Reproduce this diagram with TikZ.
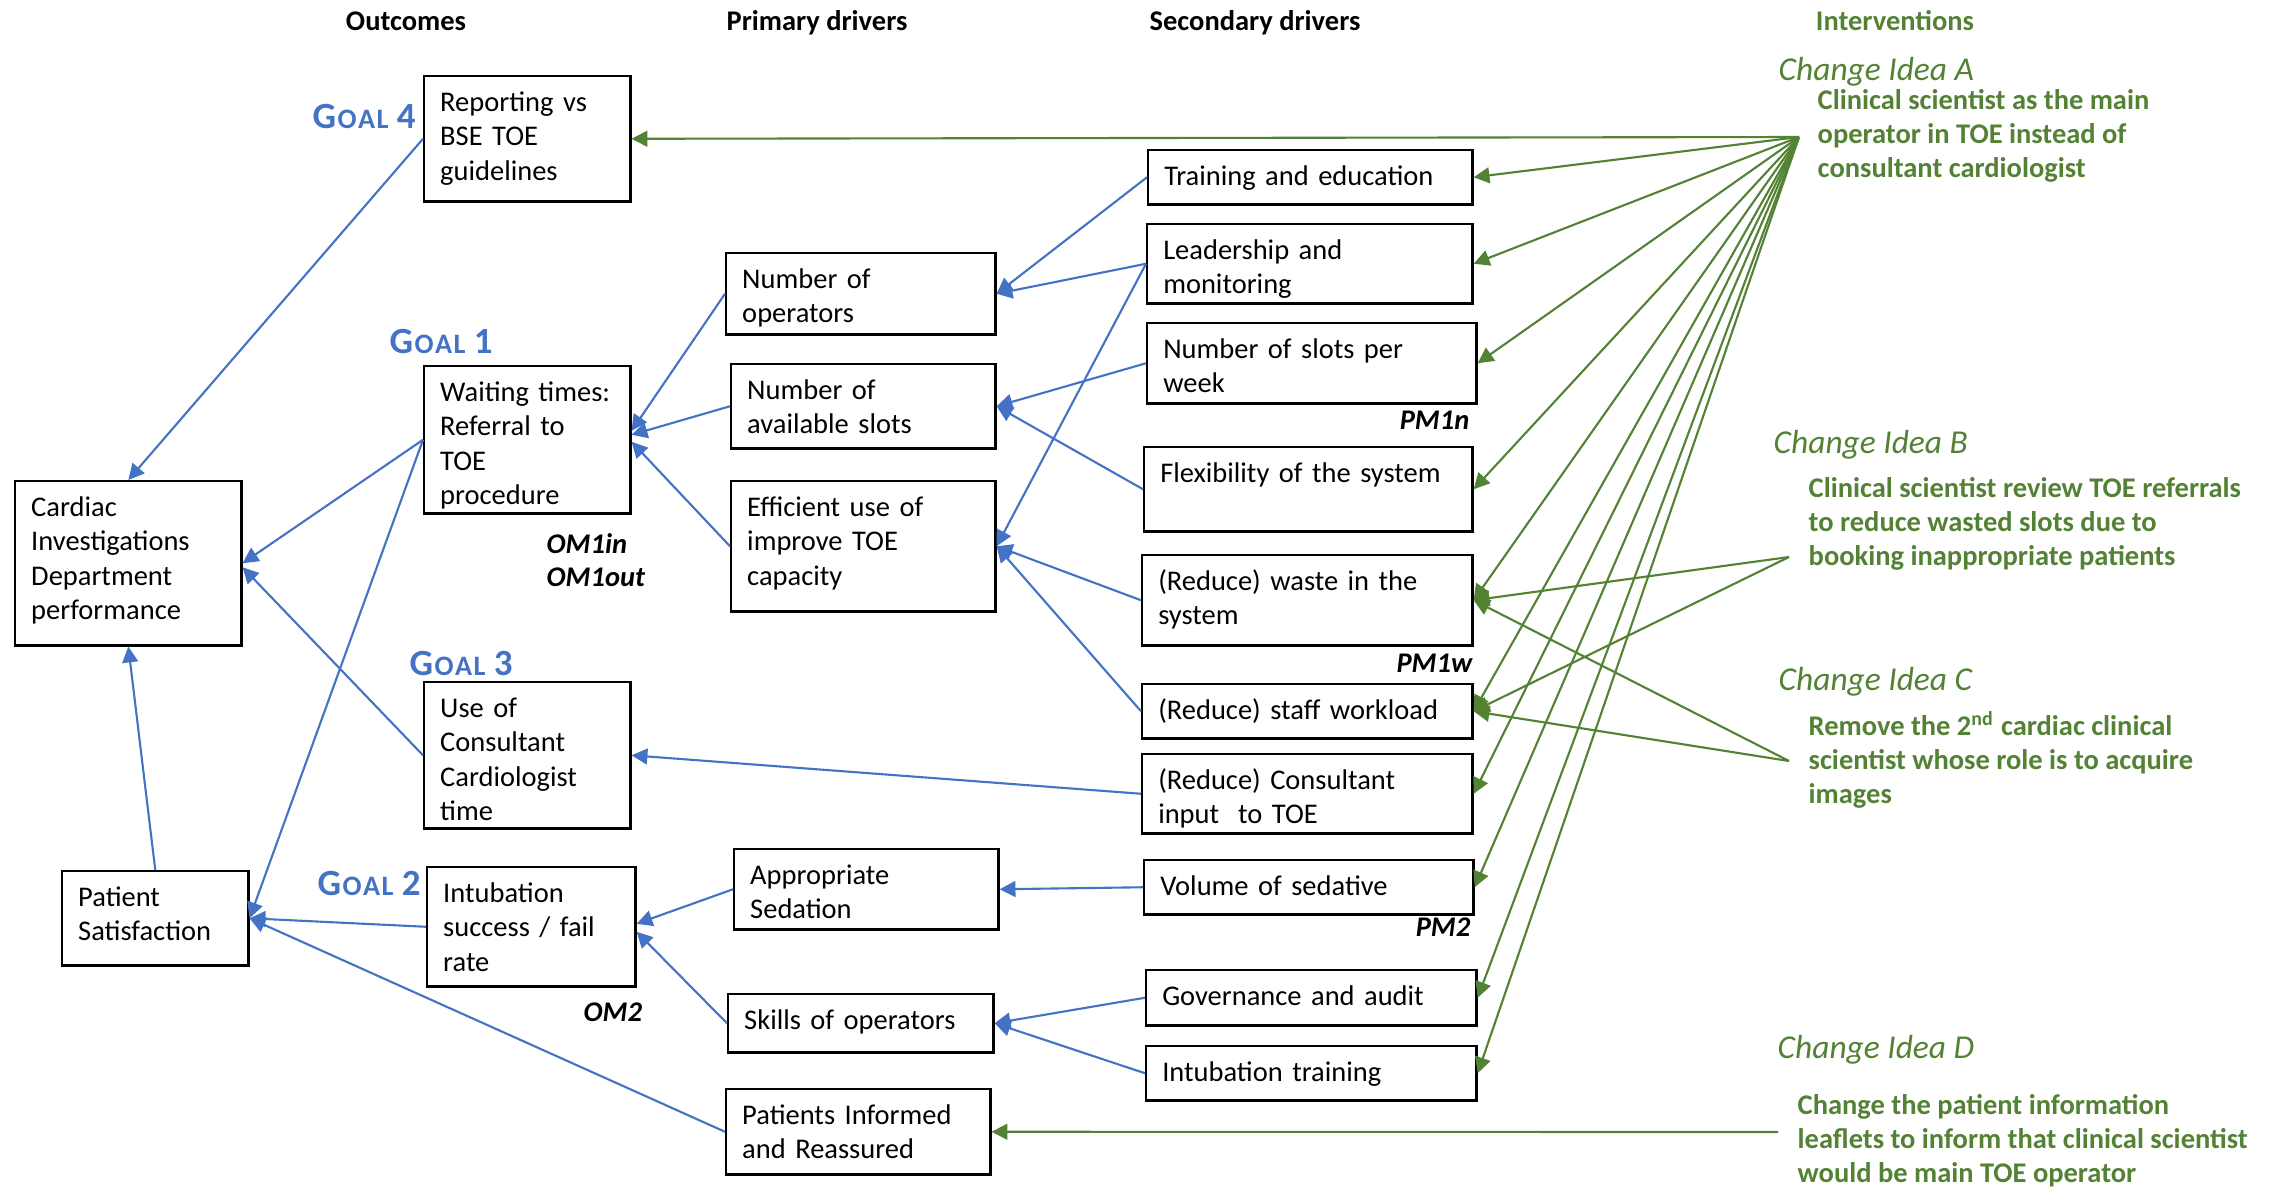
\documentclass[tikz,border=0pt]{standalone}
\usepackage{fontspec}
\setmainfont{Carlito}
\usetikzlibrary{arrows.meta,calc}
\definecolor{gblue}{HTML}{4472C4}
\definecolor{ggreen}{HTML}{548235}
\newcommand\bodyfs{\fontsize{8.1pt}{9.8pt}\selectfont}
\newcommand\goaltxt[1]{{\fontsize{10.5pt}{10.5pt}\selectfont G\kern0.4pt\fontsize{8pt}{8pt}\selectfont O\kern0.4pt A\kern0.4pt L\fontsize{10.5pt}{10.5pt}\selectfont\ #1}}
\newcommand\itxtbox[1]{\parbox[t]{8cm}{\fontsize{8.1pt}{9.8pt}\selectfont\bfseries\raggedright #1}}
\begin{document}
\begin{tikzpicture}[x=0.01cm,y=-0.01cm,
  box/.style={draw, line width=0.7pt, anchor=north west, inner xsep=0.16cm, inner ysep=0pt, align=left, font=\bodyfs, text height=0.352cm},
  bl/.style={draw=gblue, line width=0.6pt, -{Triangle[length=4.5pt,width=4.5pt]}},
  gr/.style={draw=ggreen, line width=0.6pt, -{Triangle[length=4.5pt,width=4.5pt]}},
  hdr/.style={font=\bodyfs\bfseries, anchor=base, inner sep=0pt},
  goal/.style={text=gblue, font=\bfseries, anchor=base west, inner sep=0pt},
  meas/.style={font=\bodyfs\bfseries\itshape, inner sep=0pt},
  idea/.style={text=ggreen, font=\fontsize{9.5pt}{11pt}\selectfont\itshape, anchor=base west, inner sep=0pt},
  itxt/.style={anchor=base west, inner sep=0pt, text=ggreen}]
\path[use as bounding box, fill=white] (0,0) rectangle (2275,1187);

% headers
\node[hdr] (hOut) at (406,30) {Outcomes};
\node[hdr] (hPri) at (817,30) {Primary drivers};
\node[hdr] (hSec) at (1255,30) {Secondary drivers};
\node[hdr, text=ggreen] (hInt) at (1895,30) {Interventions};

% outcome boxes
\node[box, text width=1.74cm, text depth=0.898cm] (rep) at (423,75) {Reporting vs\\BSE TOE\\guidelines};
\node[box, text width=1.74cm, text depth=1.118cm] (wait) at (423,365) {Waiting times:\\Referral to\\TOE\\procedure};
\node[box, text width=1.94cm, text depth=1.288cm] (cardiac) at (14,480) {Cardiac\\Investigations\\Department\\performance};
\node[box, text width=1.74cm, text depth=1.108cm] (use) at (423,681) {Use of\\Consultant\\Cardiologist\\time};
\node[box, text width=1.54cm, text depth=0.588cm] (patsat) at (61,870) {Patient\\Satisfaction};
\node[box, text width=1.76cm, text depth=0.838cm] (intub) at (426,866) {Intubation\\success / fail\\rate};

% primary drivers
\node[box, text width=2.37cm, text depth=0.458cm] (nops) at (725,252) {Number of\\operators};
\node[box, text width=2.32cm, text depth=0.488cm] (nslots) at (730,363) {Number of\\available slots};
\node[box, text width=2.32cm, text depth=0.948cm] (eff) at (730,480) {Efficient use of\\improve TOE\\capacity};
\node[box, text width=2.32cm, text depth=0.448cm] (sed) at (733,848) {Appropriate\\Sedation};
\node[box, text width=2.33cm, text depth=0.228cm] (skills) at (727,993) {Skills of operators};
\node[box, text width=2.32cm, text depth=0.498cm] (pinf) at (725,1088) {Patients Informed\\and Reassured};

% secondary drivers
\node[box, text width=2.92cm, text depth=0.188cm] (train) at (1147,149) {Training and education};
\node[box, text width=2.93cm, text depth=0.438cm] (lead) at (1146,223) {Leadership and\\monitoring};
\node[box, text width=2.97cm, text depth=0.448cm] (slots) at (1146,322) {Number of slots per\\week};
\node[box, text width=2.96cm, text depth=0.488cm] (flex) at (1143,446) {Flexibility of the system};
\node[box, text width=2.98cm, text depth=0.548cm] (waste) at (1141,554) {(Reduce) waste in the\\system};
\node[box, text width=2.98cm, text depth=0.188cm] (staff) at (1141,683) {(Reduce) staff workload};
\node[box, text width=2.98cm, text depth=0.438cm] (cons) at (1141,753) {(Reduce) Consultant\\input~~to TOE};
\node[box, text width=2.97cm, text depth=0.188cm] (vol) at (1143,859) {Volume of sedative};
\node[box, text width=2.98cm, text depth=0.198cm] (gov) at (1145,969) {Governance and audit};
\node[box, text width=2.98cm, text depth=0.188cm] (itrain) at (1145,1045) {Intubation training};

% goal labels
\node[goal] (g4) at (312,128) {\goaltxt{4}};
\node[goal] (g1) at (389,353) {\goaltxt{1}};
\node[goal] (g3) at (409,675) {\goaltxt{3}};
\node[goal] (g2) at (317,895) {\goaltxt{2}};

% measures
\node[meas, anchor=base west] (om1in) at (546,553) {OM1in};
\node[meas, anchor=base west] (om1out) at (546,586) {OM1out};
\node[meas, anchor=base west] (om2) at (583,1021) {OM2};
\node[meas, anchor=base east] (pm1n) at (1470,429) {PM1n};
\node[meas, anchor=base east] (pm1w) at (1473,672) {PM1w};
\node[meas, anchor=base east] (pm2) at (1471,936) {PM2};

% interventions
\node[idea] (ideaA) at (1778,80) {Change Idea A};
\node[itxt] (txtA) at (1817,109) {\itxtbox{Clinical scientist as the main\\operator in TOE instead of\\consultant cardiologist}};
\node[idea] (ideaB) at (1773,453) {Change Idea B};
\node[itxt] (txtB) at (1808,497) {\itxtbox{Clinical scientist review TOE referrals\\to reduce wasted slots due to\\booking inappropriate patients}};
\node[idea] (ideaC) at (1778,690) {Change Idea C};
\node[itxt] (txtC) at (1808,735) {\itxtbox{Remove the 2\textsuperscript{nd} cardiac clinical\\scientist whose role is to acquire\\images}};
\node[idea] (ideaD) at (1777,1058) {Change Idea D};
\node[itxt] (txtD) at (1797,1114) {\itxtbox{Change the patient information\\leaflets to inform that clinical scientist\\would be main TOE operator}};

\coordinate (srcA) at (1799,137);
\coordinate (srcB) at (1789,557);
\coordinate (srcC) at (1789,761);
\coordinate (srcD) at (1778,1132);

% blue connectors
\draw[bl] (rep.west) -- (cardiac.north);
\draw[bl] (wait.west) -- (cardiac.east);
\draw[bl] (wait.west) -- (patsat.east);
\draw[bl] (use.west) -- ($(cardiac.east)+(0,4)$);
\draw[bl] (intub.west) -- (patsat.east);
\draw[bl] (pinf.west) -- (patsat.east);
\draw[bl] (patsat.north) -- (cardiac.south);
\draw[bl] (nops.west) -- ($(wait.east)+(0,-9)$);
\draw[bl] (nslots.west) -- ($(wait.east)+(0,-5)$);
\draw[bl] (eff.west) -- ($(wait.east)+(0,2)$);
\draw[bl] (train.west) -- (nops.east);
\draw[bl] (lead.west) -- (nops.east);
\draw[bl] (lead.west) -- (eff.east);
\draw[bl] (slots.west) -- (nslots.east);
\draw[bl] (flex.west) -- (nslots.east);
\draw[bl] (waste.west) -- (eff.east);
\draw[bl] (staff.west) -- (eff.east);
\draw[bl] (cons.west) -- (use.east);
\draw[bl] (vol.west) -- (sed.east);
\draw[bl] (gov.west) -- (skills.east);
\draw[bl] (itrain.west) -- (skills.east);
\draw[bl] (sed.west) -- ($(intub.east)+(0,-3)$);
\draw[bl] (skills.west) -- ($(intub.east)+(0,5)$);

% green connectors
\foreach \t in {rep,train,lead,slots,flex,waste,staff,cons,vol,gov,itrain}
  \draw[gr] (srcA) -- (\t.east);
\draw[gr] (srcB) -- (waste.east);
\draw[gr] (srcB) -- (staff.east);
\draw[gr] (srcC) -- (waste.east);
\draw[gr] (srcC) -- (staff.east);
\draw[gr] (srcD) -- (pinf.east);
\end{tikzpicture}
\end{document}
